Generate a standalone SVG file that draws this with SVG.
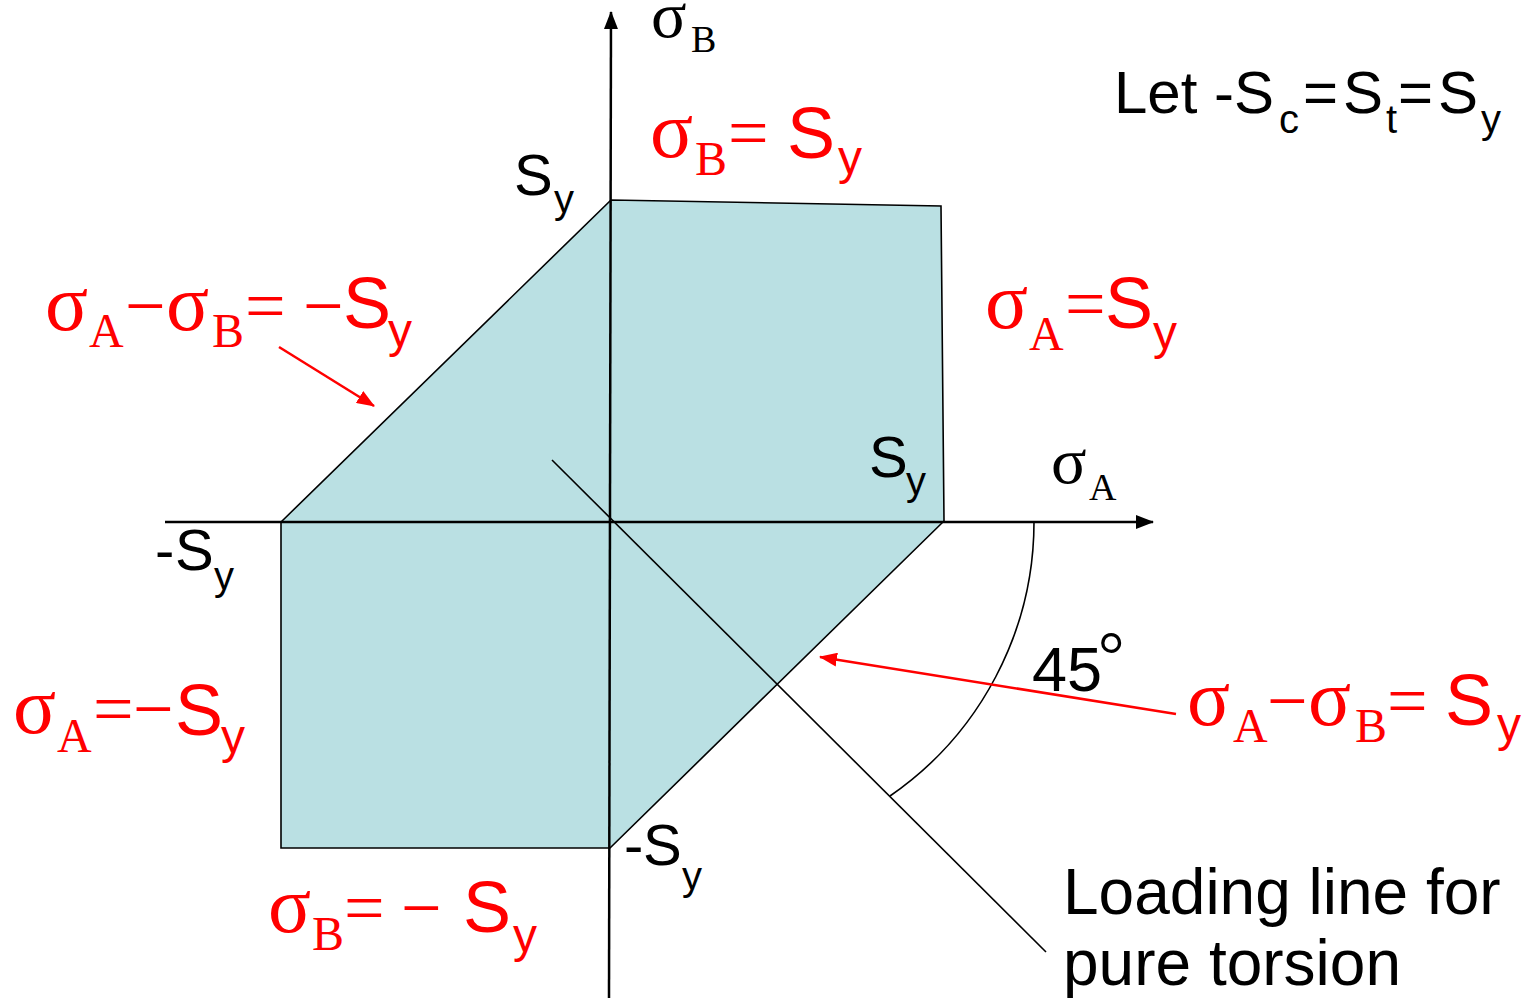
<svg xmlns="http://www.w3.org/2000/svg" width="1534" height="1002" viewBox="0 0 1534 1002">
<style>
.ax{stroke:#000;stroke-width:2.5;fill:none}
.thin{stroke:#000;stroke-width:1.6;fill:none}
.red{stroke:#f00;stroke-width:2.5;fill:none}
.sans{font-family:"Liberation Sans",Arial,sans-serif}
.serif{font-family:"Liberation Serif","Times New Roman",serif}
.blk{fill:#000}
.rd{fill:#f00}
</style>
<defs>
<marker id="ah" markerUnits="userSpaceOnUse" markerWidth="18" markerHeight="14" refX="17" refY="7" orient="auto"><path d="M0,0 L18,7 L0,14 Z" fill="#000"/></marker>
<marker id="rh" markerUnits="userSpaceOnUse" markerWidth="18" markerHeight="14" refX="17" refY="7" orient="auto"><path d="M0,0 L18,7 L0,14 Z" fill="#f00"/></marker>
</defs>
<rect width="1534" height="1002" fill="#fff"/>
<g id="region">
<polygon points="611,200 941,206 944,521 610,848 281,848 281,522" fill="#bae0e3" stroke="#000" stroke-width="1.6"/>
</g>
<g id="connectors">
<line class="ax" x1="609" y1="998" x2="611" y2="12" marker-end="url(#ah)"/>
<line class="ax" x1="165" y1="522" x2="1153" y2="522" marker-end="url(#ah)"/>
<line class="thin" x1="552" y1="460" x2="1046" y2="952"/>
<path class="thin" d="M1034,522 A333,333 0 0 1 890,796"/>
<line class="red" x1="279" y1="347" x2="374" y2="406" marker-end="url(#rh)"/>
<line class="red" x1="1176" y1="714" x2="820" y2="657" marker-end="url(#rh)"/>
</g>
<g id="axis-labels" class="blk">
<text><tspan class="serif" x="651" y="37" font-size="66">σ</tspan><tspan class="serif" x="691" y="52" font-size="38">B</tspan></text>
<text><tspan class="serif" x="1051" y="483" font-size="66">σ</tspan><tspan class="serif" x="1089" y="500" font-size="38">A</tspan></text>
</g>
<g id="tick-labels" class="blk sans">
<text><tspan x="514" y="195" font-size="58">S</tspan><tspan x="554" y="213" font-size="40">y</tspan></text>
<text><tspan x="869" y="477" font-size="58">S</tspan><tspan x="906" y="495" font-size="40">y</tspan></text>
<text><tspan x="155" y="570" font-size="58">-</tspan><tspan x="175" y="570" font-size="58">S</tspan><tspan x="214" y="590" font-size="40">y</tspan></text>
<text><tspan x="624" y="865" font-size="58">-</tspan><tspan x="643" y="865" font-size="58">S</tspan><tspan x="682" y="890" font-size="40">y</tspan></text>
</g>
<g id="note" class="blk sans">
<text><tspan x="1114" y="113" font-size="60">Let -</tspan><tspan x="1234" y="113" font-size="60">S</tspan><tspan x="1279" y="133" font-size="40">c</tspan><tspan x="1303" y="113" font-size="60">=</tspan><tspan x="1343" y="113" font-size="60">S</tspan><tspan x="1386" y="133" font-size="40">t</tspan><tspan x="1398" y="113" font-size="60">=</tspan><tspan x="1438" y="113" font-size="60">S</tspan><tspan x="1481" y="133" font-size="40">y</tspan></text>
</g>
<g id="label-top" class="rd">
<text><tspan class="serif" x="650" y="157" font-size="80">σ</tspan><tspan class="serif" x="695" y="175" font-size="48">B</tspan><tspan class="serif" x="728" y="157" font-size="72">=</tspan><tspan class="sans" x="787" y="158" font-size="72">S</tspan><tspan class="sans" x="838" y="174" font-size="48">y</tspan></text>
</g>
<g id="label-upper-left" class="rd">
<text><tspan class="serif" x="45" y="330" font-size="80">σ</tspan><tspan class="serif" x="89" y="347" font-size="48">A</tspan><tspan class="serif" x="125" y="330" font-size="72">−</tspan><tspan class="serif" x="166" y="330" font-size="80">σ</tspan><tspan class="serif" x="212" y="347" font-size="48">B</tspan><tspan class="serif" x="245" y="330" font-size="72">=</tspan><tspan class="serif" x="303" y="330" font-size="72">−</tspan><tspan class="sans" x="343" y="328" font-size="72">S</tspan><tspan class="sans" x="388" y="347" font-size="48">y</tspan></text>
</g>
<g id="label-right" class="rd">
<text><tspan class="serif" x="985" y="328" font-size="80">σ</tspan><tspan class="serif" x="1029" y="350" font-size="48">A</tspan><tspan class="serif" x="1065" y="328" font-size="72">=</tspan><tspan class="sans" x="1105" y="328" font-size="72">S</tspan><tspan class="sans" x="1153" y="349" font-size="48">y</tspan></text>
</g>
<g id="label-lower-left" class="rd">
<text><tspan class="serif" x="13" y="733" font-size="80">σ</tspan><tspan class="serif" x="57" y="752" font-size="48">A</tspan><tspan class="serif" x="93" y="733" font-size="72">=</tspan><tspan class="serif" x="133" y="733" font-size="72">−</tspan><tspan class="sans" x="175" y="735" font-size="72">S</tspan><tspan class="sans" x="221" y="753" font-size="48">y</tspan></text>
</g>
<g id="label-bottom" class="rd">
<text><tspan class="serif" x="268" y="932" font-size="80">σ</tspan><tspan class="serif" x="312" y="950" font-size="48">B</tspan><tspan class="serif" x="344" y="932" font-size="72">=</tspan><tspan class="serif" x="401" y="932" font-size="72">−</tspan><tspan class="sans" x="463" y="932" font-size="72">S</tspan><tspan class="sans" x="513" y="952" font-size="48">y</tspan></text>
</g>
<g id="label-lower-right" class="rd">
<text><tspan class="serif" x="1187" y="725" font-size="80">σ</tspan><tspan class="serif" x="1233" y="742" font-size="48">A</tspan><tspan class="serif" x="1267" y="725" font-size="72">−</tspan><tspan class="serif" x="1308" y="725" font-size="80">σ</tspan><tspan class="serif" x="1355" y="742" font-size="48">B</tspan><tspan class="serif" x="1387" y="725" font-size="72">=</tspan><tspan class="sans" x="1445" y="725" font-size="72">S</tspan><tspan class="sans" x="1497" y="741" font-size="48">y</tspan></text>
</g>
<g id="angle-label" class="blk">
<text><tspan class="sans" x="1032" y="691" font-size="63">45</tspan><tspan class="serif" x="1098" y="677" font-size="66">°</tspan></text>
</g>
<g id="loading-label" class="blk sans" font-size="64">
<text x="1063" y="914">Loading line for</text>
<text x="1063" y="985">pure torsion</text>
</g>
</svg>
